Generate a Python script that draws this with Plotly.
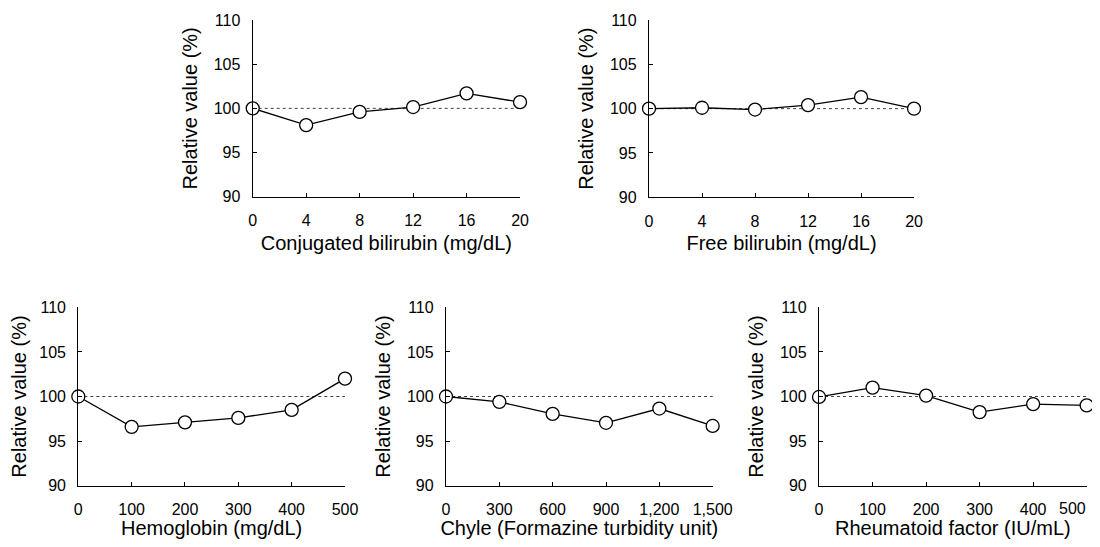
import plotly.graph_objects as go

# ---- data ----
conj_x = [0, 4, 8, 12, 16, 20]
conj_y = [100.0, 98.1, 99.6, 100.15, 101.7, 100.7]
free_x = [0, 4, 8, 12, 16, 20]
free_y = [100.0, 100.1, 99.9, 100.4, 101.3, 100.0]
hb_x = [0, 100, 200, 300, 400, 500]
hb_y = [100.0, 96.6, 97.1, 97.6, 98.5, 102.0]
chyle_x = [0, 300, 600, 900, 1200, 1500]
chyle_y = [100.0, 99.4, 98.05, 97.05, 98.65, 96.7]
rf_x = [0, 100, 200, 300, 400, 500]
rf_y = [99.95, 101.0, 100.1, 98.25, 99.15, 99.0]

x_titles = ["Conjugated bilirubin (mg/dL)", "Free bilirubin (mg/dL)",
            "Hemoglobin (mg/dL)", "Chyle (Formazine turbidity unit)",
            "Rheumatoid factor (IU/mL)"]
y_title = "Relative value (%)"
y_ticks = [90, 95, 100, 105, 110]
reference_value = 100
chyle_ticktext = ["0", "300", "600", "900", "1,200", "1,500"]
rf_ticktext = ["0", "100", "200", "300", "400", ""]
rf_last_label = "500"   # drawn right-aligned so it stays inside the page edge

# page body has an 8px margin, so the figure is placed at (8, 8)
panels = [
    (conj_x, conj_y, [0.2241, 0.4689], [0.6446, 0.9774], None),
    (free_x, free_y, [0.5870, 0.8297], [0.6435, 0.9774], None),
    (hb_x, hb_y, [0.0644, 0.3086], [0.1004, 0.4363], None),
    (chyle_x, chyle_y, [0.4011, 0.6453], [0.1004, 0.4363], chyle_ticktext),
    (rf_x, rf_y, [0.7427, 0.9878], [0.1004, 0.4363], rf_ticktext),
]

FONT = "Liberation Sans, Arial, sans-serif"
fig = go.Figure()
layout = {}
for i, (xs, ys, xd, yd, ttext) in enumerate(panels):
    n = "" if i == 0 else str(i + 1)
    xa, ya = "x" + n, "y" + n
    fig.add_trace(go.Scatter(
        x=xs, y=ys, xaxis=xa, yaxis=ya, mode="lines+markers",
        line=dict(color="black", width=1.3),
        marker=dict(size=13, color="white", line=dict(color="black", width=1.3)),
        cliponaxis=False, showlegend=False, hoverinfo="x+y"))
    fig.add_shape(type="line", xref=xa + " domain", yref=ya,
                  x0=0, x1=1, y0=reference_value, y1=reference_value,
                  line=dict(color="#444", width=1, dash="dot"), layer="below")
    xaxis = dict(domain=xd, anchor=ya, range=[xs[0], xs[-1]],
                 tickvals=xs, showgrid=False, zeroline=False, automargin=False,
                 showline=True, linecolor="black", linewidth=1.3,
                 ticks="inside", ticklen=4, tickwidth=1.3, tickcolor="black",
                 tickfont=dict(family=FONT, size=16, color="black"),
                 ticklabelstandoff=9, ticklabeloverflow="allow",
                 title=dict(text=x_titles[i], standoff=7,
                            font=dict(family=FONT, size=20, color="black")))
    if ttext is not None:
        xaxis["ticktext"] = ttext
    yaxis = dict(domain=yd, anchor=xa, range=[90, 110], tickvals=y_ticks,
                 showgrid=False, zeroline=False, automargin=False,
                 showline=True, linecolor="black", linewidth=1.3,
                 ticks="inside", ticklen=4, tickwidth=1.3, tickcolor="black",
                 tickfont=dict(family=FONT, size=16, color="black"),
                 ticklabelstandoff=8,
                 title=dict(text=y_title, standoff=10,
                            font=dict(family=FONT, size=20, color="black")))
    layout["xaxis" + n] = xaxis
    layout["yaxis" + n] = yaxis

fig.update_layout(**layout)
fig.add_annotation(x=rf_x[-1], xref="x5", y=0, yref="y5 domain",
                   text=rf_last_label, showarrow=False,
                   xanchor="right", yanchor="top", xshift=1, yshift=-12,
                   font=dict(family=FONT, size=16, color="black"))
fig.update_layout(width=1092, height=531, margin=dict(l=0, r=0, t=0, b=0),
                  paper_bgcolor="white", plot_bgcolor="white")
fig.write_html("out.html")
